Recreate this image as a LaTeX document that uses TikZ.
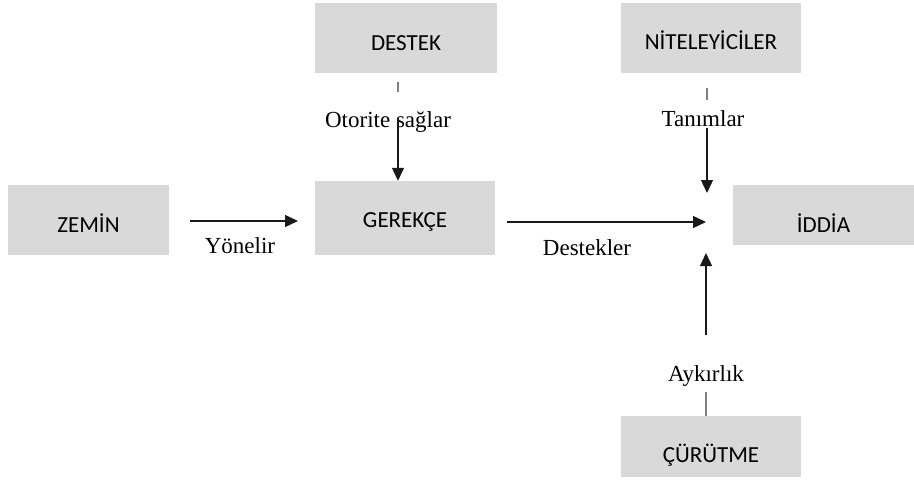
\documentclass[tikz,border=0pt]{standalone}
\usepackage{fontspec}
\setmainfont{Liberation Serif}
\newfontfamily\boxfont{Carlito}
\usetikzlibrary{arrows.meta}
\definecolor{boxgray}{HTML}{D9D9D9}
\begin{document}
\begin{tikzpicture}[x=1pt,y=-1pt,
  box/.style={fill=boxgray, draw=none, inner sep=0pt,
    font=\boxfont\fontsize{23}{23}\selectfont,
    text depth=0pt, text height=#1},
  lbl/.style={inner sep=0pt, anchor=base, font=\fontsize{23}{23}\selectfont},
  arr/.style={line width=1.3pt, draw=black!90, -{Triangle[length=13pt,width=12pt]}},
  tickline/.style={line width=2pt, draw=black!50}]
\useasboundingbox (0,0) rectangle (914,483);

% boxes
\node[box=24pt, minimum width=161pt, minimum height=70pt] (zemin)   at (88.5,220) {ZEMİN};
\node[box=24pt, minimum width=182pt, minimum height=70pt] (destek)  at (406,38)   {DESTEK};
\node[box=18pt, minimum width=180pt, minimum height=74pt] (gerekce) at (405,218)  {GEREKÇE};
\node[box=22pt, minimum width=180pt, minimum height=70pt] (nitel)   at (711,38)   {NİTELEYİCİLER};
\node[box=34pt, minimum width=181pt, minimum height=60pt] (iddia)   at (823.5,215) {İDDİA};
\node[box=31pt, minimum width=180pt, minimum height=61pt] (curut)   at (711,446.5) {ÇÜRÜTME};

% labels
\node[lbl] (yon) at (240,253) {Yönelir};
\node[lbl] (oto) at (388,127) {Otorite sağlar};
\node[lbl] (tan) at (703,126) {Tanımlar};
\node[lbl] (des) at (587,255) {Destekler};
\node[lbl] (ayk) at (706,381) {Aykırlık};

% free ends of the connectors
\coordinate (yA) at (190,221);
\coordinate (yB) at (298,221);
\coordinate (dA) at (398,82);
\coordinate (dB) at (398,92);
\coordinate (oA) at (398,118);
\coordinate (nA) at (707,88);
\coordinate (nB) at (707,100);
\coordinate (tA) at (707,128);
\coordinate (tB) at (707,193);
\coordinate (sA) at (507,222);
\coordinate (sB) at (706,222);
\coordinate (uA) at (706,335);
\coordinate (uB) at (706,253);
\coordinate (kA) at (706,392);

% connectors
\draw[arr] (yA) -- (yB);
\draw[tickline] (dA) -- (dB);
\draw[arr] (oA) -- (oA |- gerekce.north);
\draw[tickline] (nA) -- (nB);
\draw[arr] (tA) -- (tB);
\draw[arr] (sA) -- (sB);
\draw[arr] (uA) -- (uB);
\draw[tickline] (kA) -- (kA |- curut.north);
\end{tikzpicture}
\end{document}
